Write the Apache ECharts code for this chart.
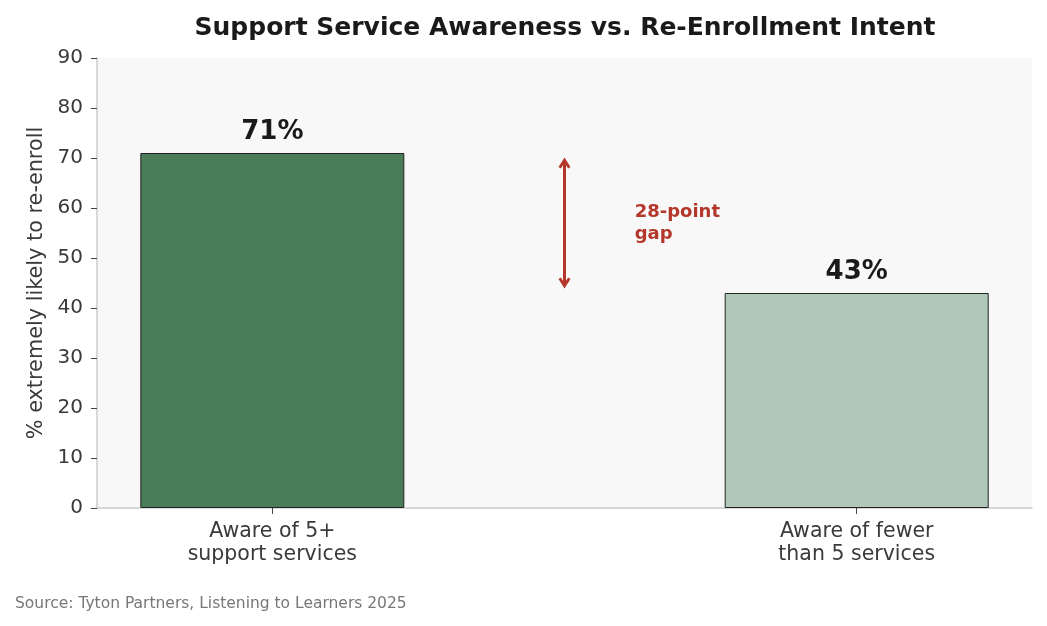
<!DOCTYPE html>
<html>
<head>
<meta charset="utf-8">
<title>Support Service Awareness vs. Re-Enrollment Intent</title>
<script src="https://cdn.jsdelivr.net/npm/echarts@6/dist/echarts.min.js"></script>
<style>
    html, body { margin: 0; padding: 0; background: #fff; }
    #container { width: 1047px; height: 626px; }
</style>
</head>
<body>
<div id="container"></div>
<script>
    // data
    var categories = ["Aware of 5+\nsupport services", "Aware of fewer\nthan 5 services"];
    var values = [71, 43];
    var barColors = ['#4a7c59', '#b0c8b7'];
    var yTicks = [0, 10, 20, 30, 40, 50, 60, 70, 80, 90];
    var gapNote = "28-point\ngap";

    var font = 'DejaVu Sans';
    var red = '#b3372a';
    // open chevron head, like matplotlib's "<->" arrow
    var chevron = 'path://M0,8 L5,0 L10,8 L8,9.3 L5,4.4 L2,9.3 Z';

    var dom = document.getElementById("container");
    var myChart = echarts.init(dom, null, {renderer: 'canvas'});

    // bar positions are 0,1 on a value axis so the plot margins match
    var barData = values.map(function (v, i) {
        return {value: [i, v], itemStyle: {color: barColors[i]}};
    });
    var mid = (values.length - 1) / 2;
    var gap = values[0] - values[1];

    var option = {
        animation: false,
        textStyle: {fontFamily: font},
        title: [
            {
                text: 'Support Service Awareness vs. Re-Enrollment Intent',
                left: 560, top: 11, textAlign: 'center',
                textStyle: {fontFamily: font, fontSize: 25, fontWeight: 'bold', color: '#1a1a1a'}
            },
            {
                text: 'Source: Tyton Partners, Listening to Learners 2025',
                left: 15, top: 596, padding: 0,
                textStyle: {fontFamily: font, fontSize: 15.5, fontWeight: 'normal', color: '#777'}
            }
        ],
        grid: {
            left: 97, right: 15, top: 58, bottom: 118,
            show: true, backgroundColor: '#f8f8f8', borderWidth: 0
        },
        xAxis: {
            type: 'value',
            min: -0.3, max: 1.3,
            splitLine: {show: false},
            axisLine: {show: true, onZero: false, lineStyle: {color: '#cccccc', width: 1.5}},
            axisTick: {show: true, customValues: [0, 1], length: 6, lineStyle: {color: '#444'}},
            axisLabel: {
                customValues: [0, 1],
                margin: 12,
                fontSize: 20.5, lineHeight: 23, color: '#3a3a3a', fontFamily: font,
                formatter: function (v) { return categories[Math.round(v)]; }
            }
        },
        yAxis: {
            type: 'value',
            min: yTicks[0], max: yTicks[yTicks.length - 1], interval: 10,
            name: '% extremely likely to re-enroll',
            nameLocation: 'middle', nameGap: 50,
            nameTextStyle: {fontSize: 20.8, color: '#3a3a3a', fontFamily: font},
            splitLine: {show: false},
            axisLine: {show: true, onZero: false, lineStyle: {color: '#cccccc', width: 1.5}},
            axisTick: {show: true, length: 6, lineStyle: {color: '#444'}},
            axisLabel: {margin: 14, fontSize: 20, color: '#3a3a3a', fontFamily: font}
        },
        series: [
            {
                type: 'bar',
                data: barData,
                barWidth: 264,
                itemStyle: {borderColor: '#222', borderWidth: 1},
                label: {
                    show: true, position: 'top', distance: 8,
                    fontSize: 26, fontWeight: 'bold', color: '#1a1a1a', fontFamily: font,
                    formatter: function (p) { return p.value[1] + '%'; }
                },
                markLine: {
                    silent: true,
                    symbol: [chevron, chevron],
                    symbolSize: [12, 11],
                    label: {show: false},
                    lineStyle: {color: red, width: 3, type: 'solid', opacity: 1},
                    data: [[{coord: [mid, values[1] + 2]}, {coord: [mid, values[0] - 2]}]]
                }
            },
            {
                type: 'scatter',
                symbolSize: 0,
                silent: true,
                data: [[mid + 0.12, values[1] + gap / 2]],
                label: {
                    show: true, position: 'right', distance: 0,
                    align: 'left',
                    formatter: gapNote,
                    fontSize: 18, fontWeight: 'bold', lineHeight: 22, color: red, opacity: 1,
                    fontFamily: font
                }
            }
        ]
    };
    if (option && typeof option === "object") {
        myChart.setOption(option, true);
    }
</script>
</body>
</html>
